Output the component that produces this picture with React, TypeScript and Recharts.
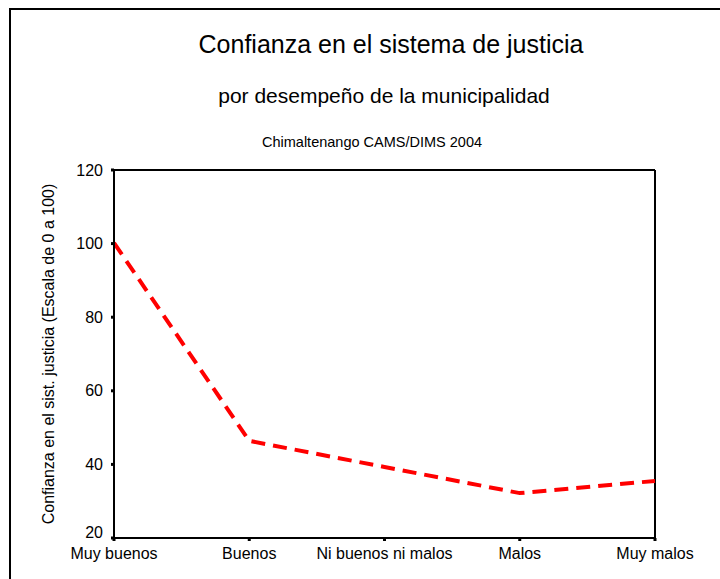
import { LineChart, Line, XAxis, YAxis, ReferenceLine } from 'recharts';

const categories = ['Muy buenos', 'Buenos', 'Ni buenos ni malos', 'Malos', 'Muy malos'];
const confianza = [100.2, 46.4, 39.3, 32.2, 35.5];
const yTicks = [20, 40, 60, 80, 100, 120];

const data = categories.map((c, i) => ({ name: c, value: confianza[i] }));

const FONT = '"Liberation Sans", Arial, sans-serif';

const YLabel = ({ viewBox }: any) => {
    const cx = viewBox.x + 48;
    const cy = viewBox.y + viewBox.height / 2;
    return (
        <text
            x={cx}
            y={cy}
            transform={`rotate(-90, ${cx}, ${cy})`}
            textAnchor="middle"
            dominantBaseline="central"
            fontSize={16}
            fontFamily={FONT}
            fill="#000"
        >
            Confianza en el sist. justicia (Escala de 0 a 100)
        </text>
    );
};

// bottom label sits a bit above its tick, as in the original
const YTick = ({ x, y, payload }: any) => {
    const dy = payload.value === 20 ? -6 : 0;
    return (
        <text x={x} y={y + dy} textAnchor="end" dominantBaseline="central" fontSize={16} fontFamily={FONT} fill="#000">
            {payload.value}
        </text>
    );
};

export default function App() {
    return (
        <div style={{ position: 'absolute', left: 0, top: 0, width: 720, height: 579, background: '#fff', overflow: 'hidden', fontFamily: FONT }}>
            {/* outer frame (only left and top edges are visible) */}
            <div style={{ position: 'absolute', left: 9, top: 8, width: 800, height: 700, borderLeft: '2px solid #000', borderTop: '2px solid #000' }} />

            <div style={{ position: 'absolute', left: 391, top: 44, transform: 'translate(-50%, -50%)', fontSize: 25, whiteSpace: 'nowrap', lineHeight: 1 }}>
                Confianza en el sistema de justicia
            </div>
            <div style={{ position: 'absolute', left: 384, top: 95, transform: 'translate(-50%, -50%)', fontSize: 21, whiteSpace: 'nowrap', lineHeight: 1 }}>
                por desempeño de la municipalidad
            </div>
            <div style={{ position: 'absolute', left: 372, top: 142, transform: 'translate(-50%, -50%)', fontSize: 14.5, whiteSpace: 'nowrap', lineHeight: 1 }}>
                Chimaltenango CAMS/DIMS 2004
            </div>

            <div style={{ position: 'absolute', left: 0, top: 0 }}>
                <LineChart width={720} height={579} data={data} margin={{ top: 170, right: 65, bottom: 0, left: 0 }}>
                    <XAxis
                        dataKey="name"
                        axisLine={{ stroke: '#000', strokeWidth: 2 }}
                        tickLine={{ stroke: '#000', strokeWidth: 3 }}
                        tickSize={3}
                        tickMargin={7}
                        tick={{ fill: '#000', fontSize: 16, fontFamily: FONT }}
                        interval={0}
                        height={41}
                    />
                    <YAxis
                        domain={[20, 120]}
                        ticks={yTicks}
                        width={114}
                        axisLine={{ stroke: '#000', strokeWidth: 2 }}
                        tickLine={{ stroke: '#000', strokeWidth: 3 }}
                        tickSize={3}
                        tickMargin={8}
                        tick={<YTick />}
                        label={<YLabel />}
                    />
                    <ReferenceLine y={120} stroke="#000" strokeWidth={2} />
                    <ReferenceLine x="Muy malos" stroke="#000" strokeWidth={2} />
                    <Line
                        type="linear"
                        dataKey="value"
                        stroke="#ff0000"
                        strokeWidth={4}
                        strokeDasharray="14 8"
                        dot={false}
                        activeDot={false}
                        isAnimationActive={false}
                    />
                </LineChart>
            </div>
        </div>
    );
}
